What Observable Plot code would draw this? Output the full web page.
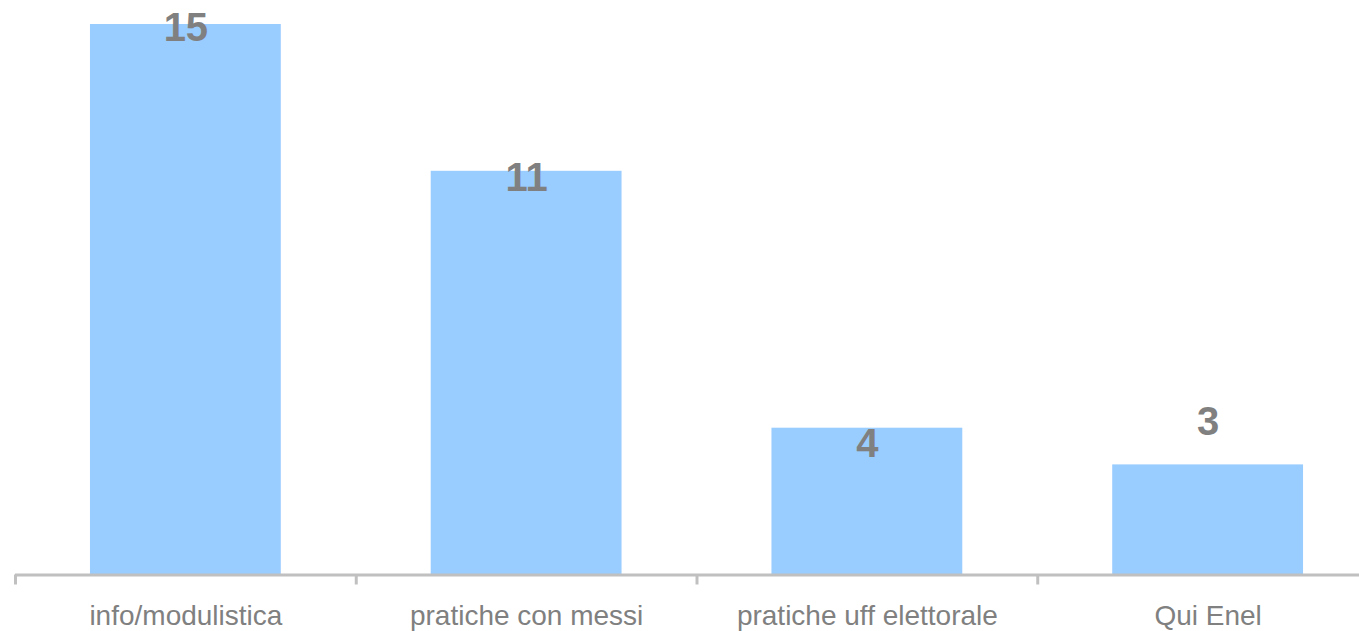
<!DOCTYPE html>
<html>
<head>
<meta charset="utf-8">
<script src="https://cdn.jsdelivr.net/npm/d3@7"></script>
<script src="https://cdn.jsdelivr.net/npm/@observablehq/plot@0.6"></script>
<style>
  html, body { margin: 0; padding: 0; background: #ffffff; overflow: hidden; }
  #chart { width: 1359px; height: 631px; overflow: hidden; }
  #chart svg { display: block; max-width: none; }
</style>
</head>
<body>
<div id="chart"></div>
<script>
const categories = ["info/modulistica", "pratiche con messi", "pratiche uff elettorale", "Qui Enel"];
const values = [15, 11, 4, 3];

const data = categories.map((c, i) => ({category: c, value: values[i]}));

// plot area extends slightly past the right window edge, as in the original
const W = 1378, H = 631;
const marginLeft = 15;
const step = (W - marginLeft) / categories.length;
const axisColor = "#c0c0c0";
const textColor = "#808080";

// vertical offset of each value label relative to its bar top
const labelDy = {"info/modulistica": 4, "pratiche con messi": 7, "pratiche uff elettorale": 16, "Qui Enel": -43};

const chart = Plot.plot({
  width: W,
  height: H,
  marginTop: 24,
  marginBottom: 56.5,
  marginLeft: marginLeft,
  marginRight: 0,
  style: {fontFamily: "'Liberation Sans', Arial, sans-serif", background: "#ffffff", maxWidth: "none"},
  x: {domain: categories, paddingInner: 0.44, paddingOuter: 0.22, round: false, label: null},
  y: {domain: [0, 15], axis: null},
  marks: [
    Plot.barY(data, {x: "category", y: "value", fill: "#99ccff"}),
    Plot.ruleY([0], {stroke: axisColor, strokeWidth: 3}),
    Plot.ruleX(categories, {x: d => d, dx: -step / 2, y1: 0, y2: 0, insetBottom: -10, stroke: axisColor, strokeWidth: 3}),
    Plot.axisX({tickSize: 0, tickPadding: 30, fontSize: 28, color: textColor, label: null}),
    ...categories.map(c => Plot.text(data.filter(d => d.category === c), {
      x: "category", y: "value", text: d => String(d.value),
      dy: labelDy[c], fontSize: 40, fontWeight: "bold", fill: textColor
    }))
  ]
});
document.getElementById("chart").appendChild(chart);
</script>
</body>
</html>
